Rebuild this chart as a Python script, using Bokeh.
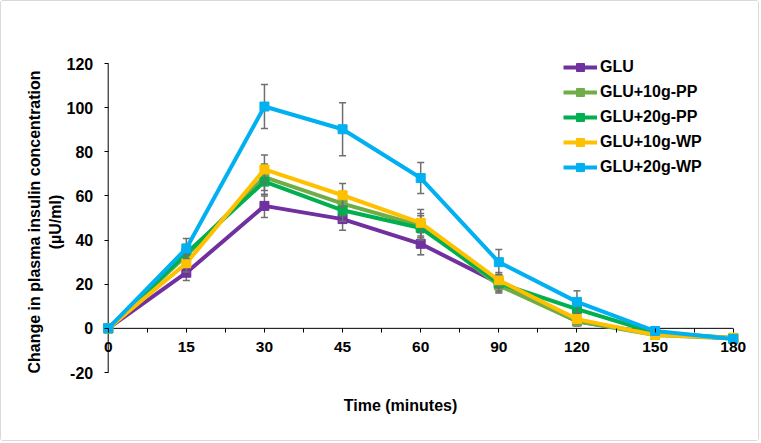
from bokeh.plotting import figure
from bokeh.models import Range1d, FixedTicker, Legend, LegendItem, Label
from bokeh.embed import file_html
from bokeh.resources import INLINE

# Sampling times (minutes), shown as evenly spaced categories
times = ["0", "15", "30", "45", "60", "90", "120", "150", "180"]

series_names = ["GLU", "GLU+10g-PP", "GLU+20g-PP", "GLU+10g-WP", "GLU+20g-WP"]

# Mean change in plasma insulin (µU/ml)
glu      = [0, 25.2, 55.5, 49.5, 38.3, 20.5, 3.2, -2.5, -4.5]
glu_10pp = [0, 33.0, 68.5, 56.5, 46.5, 19.5, 3.2, -3.0, -4.6]
glu_20pp = [0, 34.0, 66.5, 53.5, 45.5, 20.5, 8.7, -2.0, -4.4]
glu_10wp = [0, 29.5, 72.0, 60.3, 47.8, 21.8, 4.2, -3.0, -4.2]
glu_20wp = [0, 36.2, 100.5, 90.2, 68.1, 30.0, 12.0, -1.2, -4.8]

# Standard errors
glu_err      = [0, 3.5, 5.3, 5.0, 5.0, 4.0, 2.0, 1.0, 1.0]
glu_10pp_err = [0, 4.0, 6.0, 5.5, 5.5, 3.5, 2.0, 1.0, 1.0]
glu_20pp_err = [0, 4.0, 6.5, 5.0, 5.5, 3.5, 2.0, 1.0, 1.0]
glu_10wp_err = [0, 4.0, 6.5, 5.3, 6.0, 3.5, 2.0, 1.0, 1.0]
glu_20wp_err = [0, 4.5, 10.0, 12.0, 7.0, 5.7, 5.0, 1.0, 1.0]

y_ticks = [-20, 0, 20, 40, 60, 80, 100, 120]

colors = ["#7030A0", "#70AD47", "#00B050", "#FFC000", "#00B0F0"]
values = [glu, glu_10pp, glu_20pp, glu_10wp, glu_20wp]
errors = [glu_err, glu_10pp_err, glu_20pp_err, glu_10wp_err, glu_20wp_err]

FONT = "Liberation Sans"
pos = list(range(len(times)))

# The frame covers the whole canvas; axes are pinned at x = 0 and y = 0
W, H = 759, 441
x0_px, px_per_cat = 106.7, 78.125          # screen x of the first time point
ytop_px, px_per_unit = 62.0, 309.0 / 140.0  # screen y of the top tick
x_start = -x0_px / px_per_cat
x_end = x_start + W / px_per_cat
y_end = y_ticks[-1] + ytop_px / px_per_unit
y_start = y_ticks[-1] - (H - ytop_px) / px_per_unit

p = figure(width=W, height=H,
           x_range=Range1d(x_start, x_end), y_range=Range1d(y_start, y_end),
           output_backend="svg", toolbar_location=None,
           min_border=0, min_border_left=0, min_border_right=0,
           min_border_top=0, min_border_bottom=0,
           background_fill_color="white", border_fill_color="white",
           outline_line_color=None)
p.styles = {"border": "1px solid #d9d9d9", "border-radius": "3px"}

p.xgrid.visible = False
p.ygrid.visible = False

xa = p.xaxis[0]
xa.fixed_location = 0
xa.ticker = FixedTicker(ticks=pos, minor_ticks=[i + 0.5 for i in pos[:-1]])
xa.major_label_overrides = {i: t for i, t in enumerate(times)}
xa.axis_line_color = None
xa.major_tick_in = 0
xa.major_tick_out = 4
xa.minor_tick_in = 0
xa.minor_tick_out = 4
xa.major_tick_line_color = "black"
xa.minor_tick_line_color = "black"
xa.major_label_standoff = 10
xa.major_label_text_font = FONT
xa.major_label_text_font_style = "bold"
xa.major_label_text_font_size = "15.5px"
xa.major_label_text_color = "black"

ya = p.yaxis[0]
ya.fixed_location = 0
ya.ticker = FixedTicker(ticks=y_ticks, minor_ticks=[])
ya.major_label_overrides = {t: str(t) for t in y_ticks}
ya.axis_line_color = None
ya.major_tick_in = 0
ya.major_tick_out = 4
ya.major_tick_line_color = "black"
ya.major_label_standoff = 11
ya.major_label_text_font = FONT
ya.major_label_text_font_style = "bold"
ya.major_label_text_font_size = "16px"
ya.major_label_text_color = "black"
ya.axis_label = "Change in plasma insulin concentration\n(µU/ml)"
ya.axis_label_text_font = FONT
ya.axis_label_text_font_style = "bold"
ya.axis_label_text_font_size = "16px"
ya.axis_label_text_color = "black"
ya.axis_label_standoff = 0

# Axis lines limited to the data extent
p.line([pos[0], pos[-1]], [0, 0], line_color="black", line_width=1)
p.line([0, 0], [y_ticks[0], y_ticks[-1]], line_color="black", line_width=1)

items = []
cap = 0.045
for name, col, vals, errs in zip(series_names, colors, values, errors):
    xs = [x for x, e in zip(pos, errs) if e > 0]
    up = [v + e for v, e in zip(vals, errs) if e > 0]
    lo = [v - e for v, e in zip(vals, errs) if e > 0]
    p.segment(xs, lo, xs, up, line_color="#6f6f6f", line_width=1.5)
    p.segment([x - cap for x in xs], up, [x + cap for x in xs], up,
              line_color="#6f6f6f", line_width=1.5)
    p.segment([x - cap for x in xs], lo, [x + cap for x in xs], lo,
              line_color="#6f6f6f", line_width=1.5)
    lr = p.line(pos, vals, line_color=col, line_width=4, line_join="round")
    sr = p.scatter(pos, vals, marker="square", size=9, fill_color=col,
                   line_color=col)
    items.append(LegendItem(label=name, renderers=[lr, sr]))

legend = Legend(items=items, location=(562, 265), orientation="vertical",
                glyph_width=34, glyph_height=20, label_height=20, spacing=5,
                padding=0, margin=0, label_standoff=3,
                border_line_color=None, background_fill_alpha=0,
                label_text_font=FONT, label_text_font_style="bold",
                label_text_font_size="16px", label_text_color="black")
p.add_layout(legend)

p.add_layout(Label(x=(399 - x0_px) / px_per_cat,
                   y=y_ticks[-1] - (404 - ytop_px) / px_per_unit,
                   text="Time (minutes)",
                   text_align="center", text_baseline="middle",
                   text_font=FONT, text_font_style="bold",
                   text_font_size="16px", text_color="black"))

open("out.html", "w").write(file_html(p, INLINE))
